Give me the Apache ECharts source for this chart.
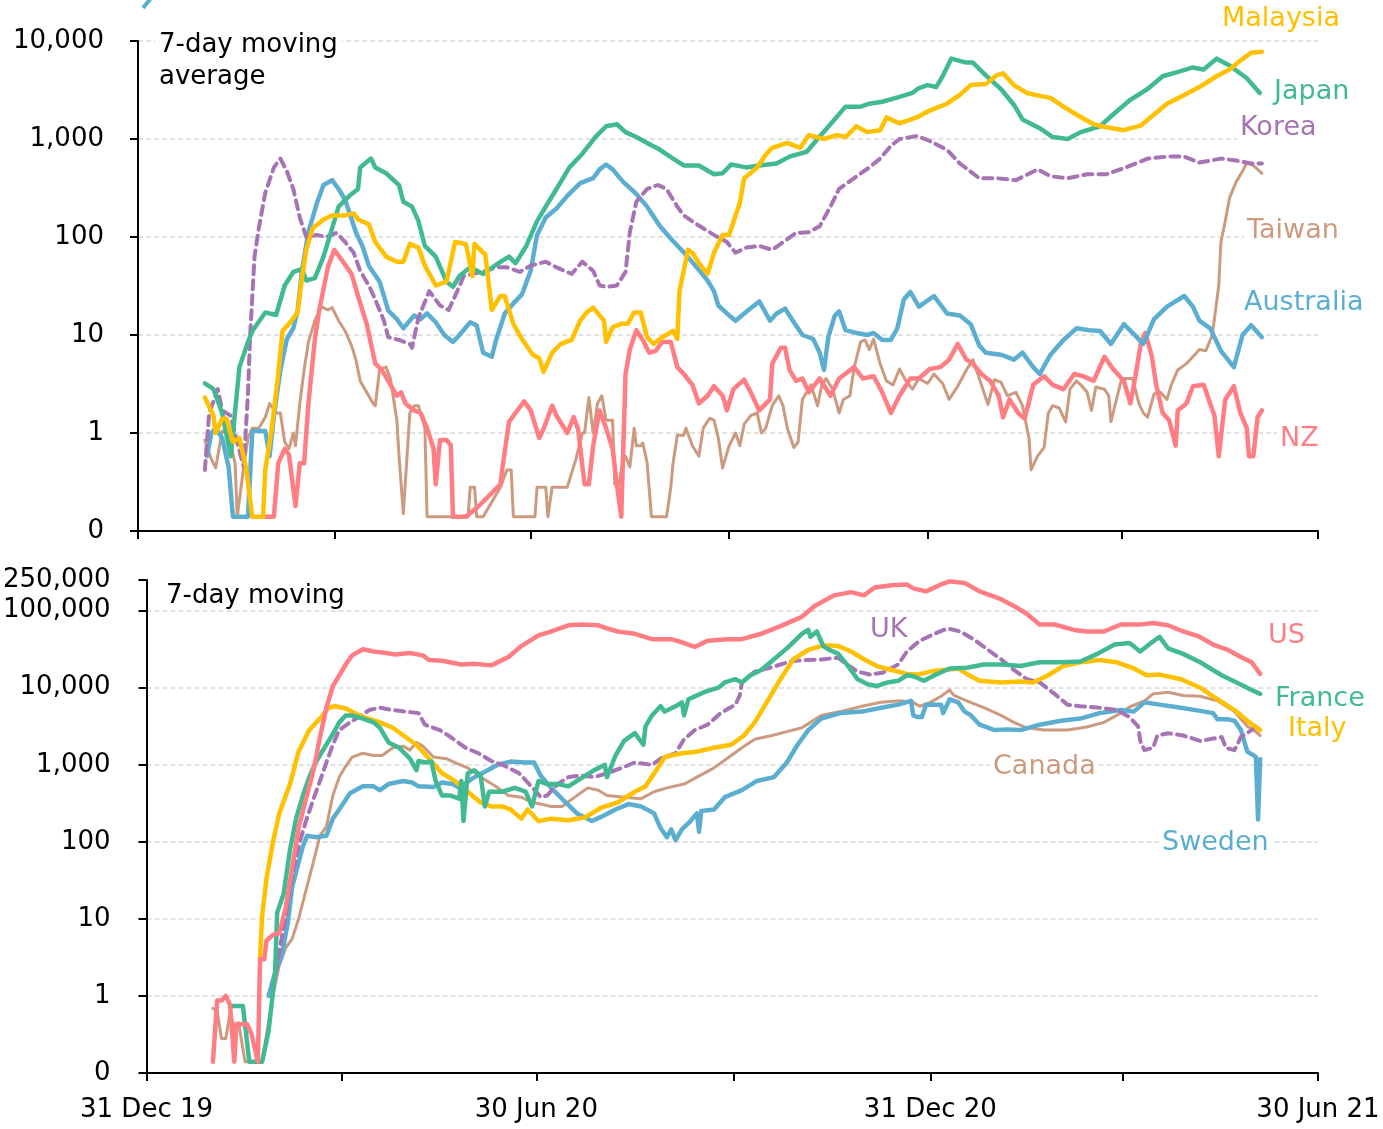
<!DOCTYPE html>
<html>
<head>
<meta charset="utf-8">
<script src="https://cdn.jsdelivr.net/npm/echarts@6/dist/echarts.min.js"></script>
<style>
    html, body { margin: 0; padding: 0; background: #fff; }
    #chart { width: 1383px; height: 1129px; }
</style>
</head>
<body>
<div id="chart"></div>
<script>
// x = days since 31 Dec 2019, y = 7-day moving average of new cases
// a value of 0.14 is the "zero" floor the source uses (1 case in 7 days)

var dateTicks = [0, 91, 182, 274, 366, 456, 547];
var dateLabels = {0: '31 Dec 19', 182: '30 Jun 20', 366: '31 Dec 20', 547: '30 Jun 21'};

// ---- top panel ----
var malaysia = [[31,2.3],[35,1.5],[36,1.0],[39,1.4],[41,1.4],[44,0.81],[47,0.89],[50,0.45],[53,0.14],[58,0.14],[59,0.42],[62,1.1],[65,4.0],[67,11],[70,13],[74,17],[76,38],[78,74],[81,123],[86,151],[90,166],[96,166],[100,174],[102,151],[107,135],[110,89],[115,63],[120,56],[123,56],[126,85],[130,78],[133,51],[138,32],[143,35],[147,89],[152,85],[155,40],[156,85],[161,66],[164,18],[168,25],[170,25],[174,13],[178,9.1],[183,6.3],[186,5.8],[188,4.2],[192,6.6],[196,8.1],[201,8.9],[205,14],[208,17],[211,19],[216,14],[217,8.5],[220,12],[224,13],[227,13],[230,17],[233,17],[236,9.5],[239,8.1],[243,9.5],[248,11],[250,9.1],[251,28],[255,74],[257,69],[260,54],[264,42],[267,69],[271,105],[274,105],[279,224],[281,398],[287,513],[291,692],[294,813],[301,912],[307,813],[311,1096],[318,1000],[324,1096],[328,1047],[333,1349],[338,1175],[344,1230],[347,1660],[353,1445],[361,1660],[367,1950],[375,2291],[381,2818],[386,3548],[393,3631],[398,4467],[401,4677],[406,3548],[412,2951],[418,2754],[423,2630],[429,2138],[435,1778],[443,1413],[449,1318],[457,1230],[465,1380],[471,1778],[477,2291],[485,2818],[492,3388],[500,4365],[506,5129],[511,6310],[516,7586],[521,7762]];

var japan = [[31,3.2],[35,2.8],[39,1.6],[43,0.58],[47,4.7],[51,8.5],[53,11],[59,17],[64,16],[68,32],[72,44],[76,47],[78,36],[82,38],[86,63],[90,123],[93,204],[98,263],[102,309],[103,513],[108,631],[110,513],[115,447],[121,339],[123,229],[127,204],[130,145],[133,81],[138,63],[143,35],[146,31],[149,40],[154,49],[160,42],[167,54],[172,63],[175,54],[180,81],[185,145],[189,204],[194,309],[200,513],[206,708],[212,1047],[217,1349],[222,1413],[226,1175],[231,1047],[236,912],[242,776],[248,631],[253,537],[260,537],[267,437],[271,447],[275,550],[282,513],[288,537],[296,562],[302,661],[310,741],[315,1000],[321,1413],[328,2138],[335,2138],[339,2291],[345,2399],[353,2692],[359,2951],[362,3311],[366,3548],[370,3388],[373,4365],[377,6607],[384,6026],[387,6026],[393,4467],[400,3236],[406,2239],[410,1585],[418,1288],[424,1047],[431,1000],[437,1175],[446,1349],[452,1778],[460,2512],[468,3236],[475,4365],[483,4898],[489,5370],[494,5129],[500,6607],[506,5623],[514,4169],[520,2951]];

var korea = [[31,0.42],[33,1.6],[37,2.8],[39,1.7],[43,1.5],[46,0.81],[49,0.45],[51,2.6],[52,10],[54,63],[56,123],[59,282],[63,513],[66,631],[69,468],[72,309],[75,158],[78,100],[83,105],[87,100],[92,110],[96,89],[100,69],[103,45],[107,32],[110,23],[114,14],[116,9.5],[121,8.9],[126,8.1],[127,7.4],[130,15],[135,28],[140,20],[144,18],[148,28],[151,40],[155,42],[161,45],[166,49],[171,49],[177,44],[182,51],[189,56],[194,49],[201,42],[206,56],[211,45],[214,32],[217,31],[222,32],[226,44],[228,112],[231,229],[236,309],[241,339],[245,309],[250,204],[253,166],[259,135],[267,105],[273,89],[277,69],[282,78],[288,81],[294,74],[301,95],[305,110],[311,112],[316,129],[321,204],[325,309],[332,398],[339,513],[344,631],[349,851],[353,1000],[361,1072],[367,955],[375,776],[381,562],[390,398],[398,398],[407,380],[417,490],[423,417],[431,398],[440,437],[449,437],[458,513],[468,631],[477,661],[485,661],[492,575],[502,631],[509,603],[516,562],[521,562]];

var taiwan = [[31,0.85],[34,0.54],[36,0.44],[39,1.05],[42,0.95],[45,0.49],[46,0.14],[49,0.45],[51,0.89],[53,1.12],[56,1.12],[59,1.45],[61,2.0],[64,1.6],[66,1.6],[68,0.81],[70,0.69],[72,1.0],[73,0.74],[75,2.0],[77,4.4],[79,8.5],[82,14],[85,19.5],[88,18],[90,19],[93,14],[96,11],[99,7.8],[101,5.6],[103,3.4],[106,2.6],[109,2.0],[110,1.9],[112,4.5],[115,4.7],[117,3.6],[120,1.35],[121,0.58],[123,0.15],[126,1.6],[128,1.9],[130,1.9],[133,1.12],[134,0.14],[153,0.14],[154,0.28],[156,0.28],[157,0.14],[160,0.14],[168,0.28],[171,0.42],[173,0.42],[174,0.14],[184,0.14],[185,0.28],[189,0.28],[190,0.14],[192,0.28],[199,0.28],[203,0.54],[206,1.0],[207,1.0],[209,2.3],[211,1.0],[213,2.0],[215,2.4],[217,1.35],[220,1.35],[221,0.3],[223,0.3],[225,0.58],[226,0.58],[228,0.45],[230,1.12],[231,0.74],[233,0.74],[234,0.79],[236,0.5],[238,0.14],[245,0.14],[247,0.28],[248,0.49],[250,0.95],[253,0.95],[254,1.12],[257,0.74],[260,0.58],[262,1.12],[265,1.41],[267,1.35],[269,0.89],[271,0.44],[274,0.74],[277,1.0],[279,0.74],[281,1.23],[284,1.5],[287,1.6],[289,1.0],[291,1.12],[294,1.9],[297,2.4],[299,1.9],[301,1.12],[304,0.71],[306,0.81],[308,2.2],[310,2.6],[312,3.1],[315,1.9],[317,3.1],[319,3.6],[322,2.8],[325,1.6],[327,2.2],[330,2.4],[332,4.7],[335,8.5],[337,8.9],[339,7.1],[341,9.1],[344,5.1],[347,3.4],[350,3.1],[353,4.5],[356,3.4],[359,2.8],[362,3.6],[366,3.2],[369,4.0],[373,3.2],[376,2.2],[380,3.0],[384,4.4],[387,5.6],[390,3.6],[394,1.95],[397,3.5],[400,3.3],[403,2.4],[407,2.6],[410,1.9],[413,0.89],[414,0.42],[417,0.58],[420,0.71],[422,1.6],[424,1.9],[427,1.8],[430,1.3],[432,2.8],[435,3.4],[437,3.1],[440,2.6],[442,1.7],[444,2.95],[448,2.8],[450,2.4],[451,1.3],[454,2.4],[456,3.6],[458,3.6],[461,3.6],[464,2.0],[466,1.6],[468,1.45],[471,2.5],[474,2.6],[477,2.2],[479,3.1],[482,4.4],[486,5.1],[489,6.0],[492,7.1],[495,6.9],[498,10],[501,32],[502,89],[504,145],[506,251],[509,363],[512,468],[514,575],[517,537],[521,447]];

var australia = [[32,0.58],[34,1.0],[36,1.12],[39,0.89],[42,0.45],[44,0.14],[51,0.14],[53,1.05],[59,1.05],[61,0.58],[63,1.5],[66,4.4],[69,9.1],[72,11.7],[74,17.8],[76,45],[79,112],[83,224],[86,339],[90,380],[93,309],[96,240],[101,112],[104,81],[107,51],[112,35],[116,17.8],[120,14.5],[123,11.7],[128,15.8],[131,14.5],[134,16.6],[138,13.5],[142,10],[146,8.5],[149,10],[154,13.5],[157,12.5],[160,6.6],[164,6.0],[166,8.9],[170,16.6],[174,21],[178,26],[182,45],[185,105],[189,158],[194,195],[199,263],[205,355],[211,398],[214,490],[217,550],[220,490],[225,363],[231,275],[236,204],[242,129],[248,91],[254,66],[259,49],[264,36],[267,28],[269,20],[273,16.6],[277,14],[281,16.6],[285,19.5],[288,22],[293,14],[296,16.6],[300,18.6],[304,13.5],[308,10],[313,9.1],[316,6.6],[318,4.4],[320,9.5],[323,15.8],[325,17.4],[328,11.2],[333,10.5],[338,10],[341,10.5],[345,8.9],[349,8.9],[352,11.7],[355,23],[358,27.5],[362,19.5],[369,25],[375,16.6],[381,15.8],[386,12.9],[390,7.8],[393,6.6],[400,6.3],[406,5.6],[410,6.6],[415,4.7],[418,4.0],[423,6.3],[429,8.9],[435,11.7],[441,11.2],[446,11],[451,8.1],[457,12.9],[463,9.5],[466,8.1],[471,14.5],[477,19.5],[485,25],[489,19.5],[492,14],[497,11.7],[502,6.9],[508,4.7],[512,10],[516,12.6],[521,9.5]];

var nz = [[59,0.14],[63,0.14],[65,0.49],[68,0.69],[70,0.6],[73,0.18],[75,0.49],[77,0.49],[79,2.0],[82,9.1],[84,17.8],[88,49],[91,74],[95,56],[99,42],[103,21],[106,13],[110,5.1],[113,4.4],[116,3.4],[120,2.4],[122,2.6],[124,2.0],[128,1.7],[131,1.6],[134,1.12],[137,0.69],[138,0.3],[140,0.85],[143,0.85],[145,0.75],[146,0.14],[152,0.14],[158,0.18],[168,0.3],[169,0.45],[172,1.3],[175,1.6],[179,2.1],[182,1.7],[186,0.89],[188,1.1],[192,1.9],[194,1.5],[199,1.0],[202,1.45],[204,1.1],[207,0.3],[209,0.3],[211,0.74],[214,1.7],[217,1.12],[220,0.69],[222,0.3],[224,0.14],[226,4.0],[228,7.1],[231,11.2],[234,8.9],[237,6.6],[240,6.9],[243,8.5],[247,8.5],[250,4.7],[253,4.0],[257,3.1],[260,2.0],[264,2.4],[267,3.0],[271,2.4],[273,1.7],[276,2.8],[281,3.5],[284,2.6],[288,1.7],[293,2.2],[294,5.1],[298,7.4],[300,7.4],[302,4.4],[305,3.4],[308,3.6],[311,2.6],[316,3.6],[321,2.4],[325,3.6],[332,4.7],[336,3.6],[341,3.8],[345,2.6],[349,1.6],[353,2.4],[358,3.6],[362,3.6],[367,4.5],[372,4.7],[376,5.6],[380,8.1],[384,5.6],[387,5.1],[391,4.0],[395,3.4],[399,2.4],[401,1.45],[404,2.2],[408,1.6],[411,1.4],[415,3.1],[420,3.8],[424,3.1],[429,2.8],[434,4.0],[438,3.8],[443,3.4],[448,6.0],[452,4.5],[457,3.4],[460,2.0],[462,3.4],[465,8.5],[467,10.5],[470,6.0],[472,3.1],[475,1.6],[478,1.35],[481,0.74],[482,1.7],[486,2.0],[489,3.0],[494,3.1],[497,2.0],[499,1.5],[501,0.58],[504,2.2],[508,3.0],[511,1.6],[514,1.12],[515,0.58],[517,0.58],[519,1.45],[521,1.7]];

// ---- bottom panel ----
var us = [[31,0.14],[33,0.87],[35,0.87],[37,1.0],[39,0.77],[41,0.14],[42,0.43],[47,0.43],[49,0.32],[52,0.14],[53,3.0],[55,3.0],[56,5.2],[59,6.2],[62,6.5],[65,14],[68,46],[71,151],[74,324],[78,851],[81,2290],[84,5500],[87,10500],[90,14500],[93,20000],[96,26300],[101,31600],[106,29500],[112,28200],[116,26900],[123,28200],[129,26300],[132,22900],[138,22400],[147,20000],[153,20400],[161,19500],[169,25100],[175,34700],[183,47900],[189,53700],[197,64600],[203,66100],[211,64600],[215,58900],[220,53700],[228,50100],[236,42700],[245,42700],[250,38900],[256,33900],[262,40700],[271,42700],[278,42700],[287,50100],[296,63100],[306,83200],[312,115000],[321,158000],[329,174000],[335,158000],[340,200000],[348,214000],[355,219000],[358,195000],[364,178000],[371,219000],[375,240000],[382,229000],[389,178000],[399,141000],[405,115000],[411,91200],[417,66100],[424,66100],[433,56200],[439,53700],[447,53700],[455,66100],[464,66100],[470,69200],[477,64600],[484,53700],[491,46800],[498,36300],[505,30900],[511,25100],[516,21400],[520,15100]];

var france = [[39,0.74],[45,0.74],[48,0.14],[54,0.14],[57,0.35],[60,1.95],[61,12],[64,21],[67,79],[70,209],[73,398],[76,692],[79,1070],[82,1480],[87,2510],[90,3550],[93,4370],[96,4370],[101,3980],[106,3550],[109,3020],[113,1950],[118,1660],[123,1200],[126,851],[127,1120],[130,1070],[133,1100],[135,617],[138,398],[142,398],[146,363],[147,617],[148,186],[150,776],[153,851],[156,724],[158,288],[160,447],[166,447],[172,501],[177,447],[180,288],[183,617],[187,562],[192,562],[197,525],[201,617],[205,724],[209,851],[214,1000],[215,692],[219,1320],[223,2040],[228,2570],[232,1820],[233,3160],[236,4370],[240,5750],[242,4900],[247,5750],[250,6460],[251,4370],[253,7080],[261,8910],[267,10000],[270,11700],[275,12900],[278,11700],[282,14500],[287,17000],[293,23400],[299,32400],[306,50100],[309,56200],[310,45700],[313,53700],[316,34700],[319,30900],[323,27500],[327,20000],[332,12900],[337,11000],[341,10500],[346,11700],[351,12300],[355,14500],[358,14100],[363,12300],[368,14500],[375,17800],[383,18200],[391,20000],[400,20000],[408,19100],[417,21400],[427,21400],[436,21900],[444,27500],[452,36300],[459,38000],[464,29500],[469,38000],[473,45700],[477,32400],[484,27500],[492,21400],[502,14500],[509,11700],[516,9330],[520,8320]];

var italy = [[53,3.0],[54,11],[56,33],[59,98],[62,234],[67,562],[71,1480],[76,2820],[81,3980],[85,5500],[88,5750],[93,5370],[101,4170],[109,3550],[115,3020],[120,2400],[126,1820],[132,1200],[138,776],[144,617],[150,447],[156,324],[161,288],[166,288],[170,263],[175,200],[178,263],[183,186],[189,200],[197,191],[205,209],[212,275],[220,324],[228,447],[233,525],[238,851],[242,1260],[250,1410],[257,1480],[265,1660],[273,1820],[279,2400],[284,3550],[290,6760],[296,12900],[302,23400],[309,30900],[316,35500],[323,34700],[329,29500],[335,23400],[341,19100],[348,17000],[355,15100],[360,14800],[366,16200],[372,17000],[379,17800],[383,15100],[389,12300],[399,11700],[408,12000],[414,11700],[421,14500],[428,19100],[436,21400],[445,22900],[453,21400],[461,17800],[467,14500],[473,14800],[483,12900],[492,10000],[500,7080],[508,5130],[514,3720],[520,2820]];

var uk = [[59,1.26],[62,3.8],[65,11],[68,37],[71,87],[74,170],[78,363],[81,617],[84,1070],[87,1820],[90,2820],[95,3550],[99,4170],[104,5130],[109,5500],[115,5130],[121,4900],[127,4680],[130,3310],[137,2820],[142,2290],[149,1660],[155,1410],[161,1120],[167,977],[174,776],[178,589],[182,447],[184,380],[187,398],[192,562],[197,692],[203,724],[209,692],[215,776],[222,912],[228,1070],[236,1000],[240,1200],[247,1410],[251,2140],[256,2820],[262,3310],[268,4680],[275,6030],[277,7940],[278,11700],[284,16200],[290,17800],[296,20000],[302,22400],[309,22900],[316,23400],[323,24500],[327,20000],[332,16200],[338,14800],[344,15800],[351,20000],[355,29500],[361,40700],[368,50100],[374,58900],[380,53700],[386,42700],[393,30900],[399,23400],[405,17000],[411,12900],[417,11700],[424,8320],[430,6030],[436,5750],[445,5500],[453,5130],[459,4170],[463,3160],[464,2040],[466,1550],[470,1660],[472,2400],[477,2570],[484,2400],[492,2040],[502,2290],[504,1660],[508,1550],[511,2290],[516,2820],[519,3310]];

var canada = [[31,0.69],[33,0.63],[35,0.28],[37,0.28],[39,0.59],[41,0.4],[43,0.45],[46,0.14],[54,0.14],[57,0.46],[59,1.0],[62,2.5],[65,4.2],[68,5.5],[71,10],[74,21],[78,56],[81,120],[84,158],[87,398],[90,692],[93,955],[96,1260],[101,1410],[106,1320],[110,1320],[115,1660],[120,1740],[123,1550],[126,1950],[129,1750],[134,1260],[140,1200],[144,1070],[150,912],[156,692],[163,525],[169,398],[175,380],[180,324],[184,309],[189,288],[194,288],[200,380],[206,501],[211,468],[215,398],[223,380],[231,363],[237,447],[243,501],[251,562],[257,692],[265,912],[273,1320],[278,1660],[284,2140],[292,2400],[299,2690],[306,3020],[310,3550],[315,4370],[324,4900],[334,5750],[343,6460],[352,6760],[358,6460],[361,5750],[366,6460],[371,7760],[375,9330],[377,7940],[383,6760],[391,5500],[399,4370],[405,3550],[411,3020],[419,2820],[430,2820],[439,3090],[447,3550],[453,4370],[459,5620],[466,6760],[470,8320],[477,8710],[484,7940],[492,7760],[500,6760],[508,4900],[514,3160],[517,2820],[520,2400]];

var sweden = [[57,1.0],[60,2.0],[63,3.2],[66,9],[68,26],[73,87],[75,120],[79,115],[84,120],[87,200],[90,263],[95,427],[101,525],[106,525],[109,468],[113,562],[120,617],[124,589],[127,525],[134,513],[138,589],[143,562],[146,501],[152,661],[158,813],[164,1000],[170,1100],[177,1070],[181,1070],[184,724],[189,501],[195,339],[201,234],[208,186],[212,209],[219,263],[225,309],[231,288],[237,234],[240,151],[243,115],[245,145],[247,105],[250,145],[254,186],[257,234],[258,135],[259,251],[265,263],[270,380],[278,468],[285,617],[293,692],[299,1070],[304,1820],[309,2820],[315,3980],[324,4680],[334,4900],[343,5500],[351,6030],[357,6760],[358,4370],[360,4170],[362,4170],[364,6030],[371,6030],[372,4680],[375,7080],[379,6460],[382,4900],[385,4370],[389,3310],[396,2820],[402,2880],[408,2820],[417,3310],[427,3720],[436,3980],[445,4680],[455,5130],[461,4900],[466,6460],[473,6030],[483,5500],[492,5010],[498,4680],[500,3890],[505,3890],[508,3720],[511,2820],[514,1480],[517,1320],[518,1260],[519,195],[520,1180]];

var YELLOW = '#FFC000', GREEN = '#41B993', PURPLE = '#A673B4',
    TAN = '#CB9A7F', BLUE = '#5BAED0', PINK = '#FF7D83';
var FONT = 'DejaVu Sans';

function lineSeries(name, data, color, width, dashed, panel) {
    return {
        name: name,
        type: 'line',
        xAxisIndex: panel,
        yAxisIndex: panel,
        data: data,
        showSymbol: false,
        symbol: 'none',
        lineStyle: {
            color: color,
            width: width,
            type: dashed ? [9, 6] : 'solid',
            join: 'round',
            cap: 'round'
        }
    };
}

function yLabel(v) {
    if (v < 0.5) return '0';
    return Math.round(v).toLocaleString('en-US');
}

function xAxisFor(panel, showLabels) {
    return {
        type: 'value',
        gridIndex: panel,
        min: 0,
        max: 547,
        axisLine: { show: true, lineStyle: { color: '#000', width: 2 } },
        axisTick: { show: true, customValues: dateTicks, length: 8, lineStyle: { color: '#000', width: 2 } },
        axisLabel: {
            show: showLabels,
            customValues: [0, 182, 366, 547],
            formatter: function (v) { return dateLabels[v] || ''; },
            color: '#000',
            fontFamily: FONT,
            fontSize: 26,
            margin: 24
        },
        splitLine: { show: false }
    };
}

function yAxisFor(panel, max, margin) {
    return {
        type: 'log',
        logBase: 10,
        gridIndex: panel,
        min: 0.1,
        max: max,
        axisLine: { show: true, lineStyle: { color: '#000', width: 2 } },
        axisTick: { show: true, length: 8, lineStyle: { color: '#000', width: 2 } },
        axisLabel: {
            formatter: yLabel,
            color: '#000',
            fontFamily: FONT,
            fontSize: 26,
            margin: margin
        },
        splitLine: {
            show: true,
            showMinLine: false,
            showMaxLine: panel === 0,
            lineStyle: { color: '#D9D9D9', width: 1.5, type: [5, 3] }
        }
    };
}

function tag(text, x, y, color) {
    return {
        type: 'text',
        x: x,
        y: y,
        z: 100,
        style: {
            text: text,
            fill: color,
            font: '27px "' + FONT + '"',
            verticalAlign: 'middle',
            backgroundColor: '#fff',
            padding: [0, 3]
        }
    };
}

var chart = echarts.init(document.getElementById('chart'));

var option = {
    animation: false,
    backgroundColor: '#fff',
    grid: [
        { left: 138, right: 65, top: 41, bottom: 598 },
        { left: 144, right: 65, top: 580, bottom: 56 }
    ],
    xAxis: [xAxisFor(0, false), xAxisFor(1, true)],
    yAxis: [yAxisFor(0, 10000, 34), yAxisFor(1, 250000, 36)],
    series: [
        lineSeries('Taiwan', taiwan, TAN, 3, false, 0),
        lineSeries('NZ', nz, PINK, 4.5, false, 0),
        lineSeries('Australia', australia, BLUE, 4.5, false, 0),
        lineSeries('Korea', korea, PURPLE, 4, true, 0),
        lineSeries('Japan', japan, GREEN, 4.5, false, 0),
        lineSeries('Malaysia', malaysia, YELLOW, 4.5, false, 0),

        lineSeries('Canada', canada, TAN, 3, false, 1),
        lineSeries('Sweden', sweden, BLUE, 4.5, false, 1),
        lineSeries('UK', uk, PURPLE, 4, true, 1),
        lineSeries('Italy', italy, YELLOW, 4.5, false, 1),
        lineSeries('France', france, GREEN, 4.5, false, 1),
        lineSeries('US', us, PINK, 4.5, false, 1)
    ],
    graphic: [
        {
            type: 'line', z: 100,
            shape: { x1: 143, y1: 8, x2: 151, y2: -2 },
            style: { stroke: BLUE, lineWidth: 4 }
        },
        {
            type: 'text', x: 155, y: 29, z: 100,
            style: {
                text: '7-day moving\naverage',
                fill: '#000',
                font: '26px "' + FONT + '"',
                lineHeight: 32,
                verticalAlign: 'top',
                backgroundColor: '#fff',
                padding: [0, 4]
            }
        },
        {
            type: 'text', x: 166, y: 583, z: 100,
            style: {
                text: '7-day moving',
                fill: '#000',
                font: '26px "' + FONT + '"',
                verticalAlign: 'top'
            }
        },
        tag('Malaysia', 1219, 19, YELLOW),
        tag('Japan', 1271, 92, GREEN),
        tag('Korea', 1237, 128, PURPLE),
        tag('Taiwan', 1244, 231, TAN),
        tag('Australia', 1241, 303, BLUE),
        tag('NZ', 1277, 439, PINK),
        tag('UK', 867, 630, PURPLE),
        tag('US', 1265, 636, PINK),
        tag('France', 1272, 699, GREEN),
        tag('Italy', 1285, 729, YELLOW),
        tag('Canada', 990, 767, TAN),
        tag('Sweden', 1159, 843, BLUE)
    ]
};

chart.setOption(option);
</script>
</body>
</html>
